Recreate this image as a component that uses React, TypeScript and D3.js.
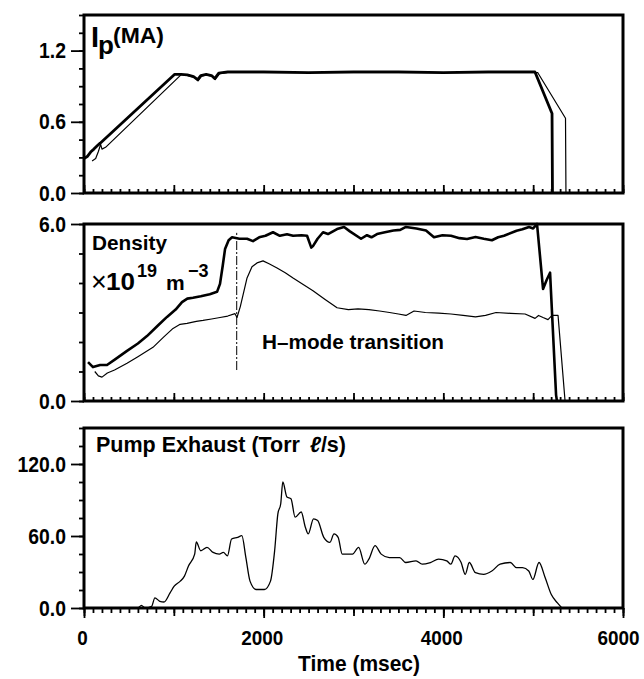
import React, { useEffect, useRef } from "react";
import * as d3 from "d3";

// tick labels
const timeLabels = [0, 2000, 4000, 6000];
const ipLabels = [0, 0.6, 1.2];
const densityLabels = [0, 6];
const pumpLabels = [0, 60, 120];

// plasma current, MA  [time msec, value]
const ipThick: [number, number][] = [
  [0, 0.29], [40, 0.31], [80, 0.35], [110, 0.37], [150, 0.4], [180, 0.42],
  [1010, 1.0], [1080, 1.0], [1150, 0.995], [1220, 0.98], [1265, 0.955], [1300, 0.99],
  [1360, 1.0], [1420, 0.99], [1455, 0.965], [1500, 1.01], [1600, 1.02], [2000, 1.02],
  [2500, 1.015], [3000, 1.02], [3500, 1.02], [4000, 1.015], [4500, 1.02], [5020, 1.02],
  [5210, 0.67], [5215, 0.0],
];
const ipThin: [number, number][] = [
  [90, 0.27], [130, 0.29], [160, 0.35], [185, 0.41], [200, 0.37], [240, 0.385],
  [1085, 1.0], [1150, 0.99], [1230, 0.975], [1270, 0.945], [1310, 0.985], [1360, 0.995],
  [1420, 0.985], [1460, 0.955], [1510, 1.005], [1600, 1.015], [3000, 1.015], [5050, 1.015],
  [5360, 0.63], [5365, 0.0],
];

// line density, 1e19 m^-3
const densityThick: [number, number][] = [
  [45, 1.32], [100, 1.15], [180, 1.22], [256, 1.22], [350, 1.42], [479, 1.7], [600, 1.95],
  [701, 2.2], [820, 2.55], [924, 2.85], [1020, 3.1], [1091, 3.35], [1150, 3.47], [1213, 3.5],
  [1300, 3.55], [1400, 3.62], [1481, 3.7], [1514, 3.97], [1545, 4.6], [1570, 5.15], [1610, 5.45],
  [1648, 5.55], [1730, 5.5], [1815, 5.5], [1881, 5.42], [1950, 5.55], [2020, 5.6], [2104, 5.72],
  [2180, 5.6], [2260, 5.65], [2327, 5.6], [2420, 5.62], [2483, 5.6], [2530, 5.2], [2549, 5.25],
  [2600, 5.5], [2661, 5.72], [2716, 5.66], [2817, 5.83], [2895, 5.9], [2960, 5.75], [3084, 5.5],
  [3150, 5.62], [3200, 5.55], [3262, 5.66], [3350, 5.72], [3445, 5.78], [3520, 5.8], [3584, 5.9],
  [3700, 5.85], [3807, 5.78], [3896, 5.55], [3990, 5.62], [4085, 5.6], [4180, 5.52], [4264, 5.49],
  [4358, 5.56], [4450, 5.5], [4541, 5.45], [4610, 5.55], [4675, 5.6], [4815, 5.77], [4880, 5.82],
  [4954, 5.9], [5000, 5.85], [5043, 6.0], [5110, 3.8], [5150, 4.1], [5188, 4.35], [5255, 0.2],
  [5265, 0.0],
];
const densityThin: [number, number][] = [
  [120, 1.0], [160, 0.85], [200, 0.81], [260, 0.95], [340, 1.05], [479, 1.28], [600, 1.5],
  [768, 1.82], [880, 2.15], [991, 2.46], [1070, 2.6], [1147, 2.63], [1250, 2.7], [1325, 2.73],
  [1420, 2.78], [1514, 2.83], [1600, 2.88], [1681, 2.96], [1703, 2.83], [1740, 3.2], [1815, 4.17],
  [1870, 4.55], [1926, 4.68], [1993, 4.75], [2060, 4.65], [2149, 4.51], [2240, 4.35], [2327, 4.17],
  [2440, 3.95], [2549, 3.74], [2680, 3.45], [2817, 3.16], [2943, 3.1], [3050, 3.12], [3172, 3.1],
  [3290, 3.05], [3401, 3.0], [3500, 2.95], [3584, 2.9], [3674, 3.05], [3800, 3.0], [3950, 2.98],
  [4085, 2.95], [4220, 2.9], [4358, 2.85], [4470, 2.9], [4587, 3.0], [4750, 2.97], [4910, 2.95],
  [5021, 2.8], [5060, 2.9], [5110, 2.83], [5165, 2.76], [5210, 2.9], [5277, 2.9], [5355, 0.0],
];
// H-mode transition marker [time, from, to]
const hModeMarker: [number, number, number] = [1700, 1.05, 5.7];

// pump exhaust, Torr l/s
const pumpExhaust: [number, number][] = [
  [0, 0], [600, 0], [639, 2.2], [680, 0], [753, 1.4], [789, 8.4], [844, 5.6], [890, 5],
  [958, 12.6], [1004, 18.2], [1072, 22.4], [1118, 26.6], [1163, 35], [1232, 44.9], [1250, 55],
  [1300, 47.7], [1369, 50.5], [1437, 46.3], [1506, 44.9], [1551, 46.3], [1597, 43.5], [1643, 57.5],
  [1711, 58.9], [1757, 60.3], [1802, 42], [1848, 22.4], [1917, 15.4], [2008, 15.4], [2076, 22.4],
  [2122, 47.7], [2158, 78.5], [2190, 86.9], [2213, 105], [2259, 92.5], [2304, 91], [2350, 75.7],
  [2418, 80], [2464, 67.3], [2496, 61.7], [2555, 74.3], [2601, 72.9], [2669, 58.9], [2738, 54.7],
  [2783, 61.7], [2829, 58.9], [2875, 44.9], [2989, 44.9], [3057, 50.5], [3126, 36.5], [3171, 40.7],
  [3240, 51.9], [3308, 44.9], [3399, 42], [3514, 42], [3582, 37.9], [3696, 39.3], [3765, 36.5],
  [3856, 37.9], [3947, 40.7], [4038, 39.3], [4084, 36.5], [4130, 43.5], [4198, 37.9], [4244, 28],
  [4289, 37.9], [4358, 29.4], [4449, 28], [4540, 30.8], [4632, 36.5], [4746, 37.9], [4814, 33.6],
  [4882, 33.6], [4951, 30.8], [4997, 23.8], [5065, 37.9], [5134, 25.2], [5202, 11.2], [5270, 4.2],
  [5320, 0],
];

const FONT = "'Liberation Sans', Arial, Helvetica, sans-serif";

function App() {
  const ref = useRef<SVGSVGElement>(null);

  useEffect(() => {
    const svg = d3.select(ref.current);
    svg.selectAll("*").remove();

    const left = 84;
    const right = 623;
    const x = d3.scaleLinear().domain([0, 6000]).range([left, right]);

    const panels = [
      { y: d3.scaleLinear().domain([0, 1.5]).range([193, 15]), step: 0.15, labels: ipLabels, last: false },
      { y: d3.scaleLinear().domain([0, 6]).range([401, 224]), step: 1, labels: densityLabels, last: false },
      { y: d3.scaleLinear().domain([0, 150]).range([608, 428]), step: 15, labels: pumpLabels, last: true },
    ];

    const minorT = d3.range(0, 6001, 100);
    const midT = d3.range(0, 6001, 1000);

    // condensed bold look: squeeze each label horizontally
    const squeeze = (sel: any, k: number) => {
      sel.each(function (this: SVGTextElement) {
        const w = this.getComputedTextLength();
        if (w > 0) {
          this.setAttribute("textLength", String(w * k));
          this.setAttribute("lengthAdjust", "spacingAndGlyphs");
        }
      });
    };

    const styleAxis = (g: any) => {
      g.select(".domain").remove();
      g.selectAll("line").attr("stroke", "#000").attr("stroke-width", 1.8);
      g.selectAll("text")
        .attr("fill", "#000")
        .attr("font-family", FONT)
        .attr("font-weight", "bold")
        .attr("font-size", 22);
    };

    panels.forEach(p => {
      const [y0, y1] = p.y.range();
      const yMinor = d3.range(0, p.y.domain()[1] + 1e-6, p.step);

      // left axis, outward ticks
      svg.append("g")
        .attr("transform", `translate(${left},0)`)
        .call(d3.axisLeft(p.y).tickValues(yMinor).tickSize(5).tickFormat(() => ""))
        .call(styleAxis);
      const yl = svg.append("g")
        .attr("transform", `translate(${left},0)`)
        .call(d3.axisLeft(p.y).tickValues(p.labels).tickSize(13).tickPadding(5).tickFormat(d3.format(".1f")))
        .call(styleAxis);
      squeeze(yl.selectAll("text"), 0.88);

      if (!p.last) {
        // inward time ticks
        svg.append("g")
          .attr("transform", `translate(0,${y0})`)
          .call(d3.axisTop(x).tickValues(minorT).tickSize(4).tickFormat(() => ""))
          .call(styleAxis);
        svg.append("g")
          .attr("transform", `translate(0,${y0})`)
          .call(d3.axisTop(x).tickValues(midT).tickSize(8).tickFormat(() => ""))
          .call(styleAxis);
      } else {
        svg.append("g")
          .attr("transform", `translate(0,${y0})`)
          .call(d3.axisBottom(x).tickValues(minorT).tickSize(5).tickFormat(() => ""))
          .call(styleAxis);
        svg.append("g")
          .attr("transform", `translate(0,${y0})`)
          .call(d3.axisBottom(x).tickValues(midT).tickSize(8).tickFormat(() => ""))
          .call(styleAxis);
        const lab = svg.append("g")
          .attr("transform", `translate(0,${y0})`)
          .call(d3.axisBottom(x).tickValues(timeLabels).tickSize(10).tickFormat(d3.format("d")))
          .call(styleAxis);
        lab.selectAll("text")
          .attr("y", 37)
          .attr("dy", 0)
          .attr("dx", (d: number) => (d === 6000 ? -5 : -2))
          .attr("font-size", 21);
        squeeze(lab.selectAll("text"), 0.9);
      }

      // frame
      svg.append("rect")
        .attr("x", left)
        .attr("y", y1)
        .attr("width", right - left)
        .attr("height", y0 - y1)
        .attr("fill", "none")
        .attr("stroke", "#000")
        .attr("stroke-width", 3);
    });

    const draw = (data: [number, number][], y: any, w: number, curve: any = d3.curveLinear) => {
      const line = d3.line<[number, number]>().x(d => x(d[0])).y(d => y(d[1])).curve(curve);
      svg.append("path")
        .datum(data)
        .attr("d", line)
        .attr("fill", "none")
        .attr("stroke", "#000")
        .attr("stroke-width", w)
        .attr("stroke-linejoin", "round");
    };

    const [pIp, pDen, pPump] = panels;
    draw(ipThin, pIp.y, 1.2);
    draw(ipThick, pIp.y, 2.8);
    draw(densityThin, pDen.y, 1.2);
    draw(densityThick, pDen.y, 2.6);
    draw(pumpExhaust, pPump.y, 1.3, d3.curveMonotoneX);

    // H-mode marker
    svg.append("line")
      .attr("x1", x(hModeMarker[0]))
      .attr("x2", x(hModeMarker[0]))
      .attr("y1", pDen.y(hModeMarker[1]))
      .attr("y2", pDen.y(hModeMarker[2]))
      .attr("stroke", "#000")
      .attr("stroke-width", 1)
      .attr("stroke-dasharray", "9,2,2,2");

    const txt = (sx: number, sy: number, s: string, size: number, len?: number) => {
      const t = svg.append("text")
        .attr("x", sx)
        .attr("y", sy)
        .attr("font-family", FONT)
        .attr("font-weight", "bold")
        .attr("font-size", size)
        .attr("fill", "#000")
        .text(s);
      if (len) t.attr("textLength", len).attr("lengthAdjust", "spacingAndGlyphs");
      return t;
    };

    // panel titles
    const ip = svg.append("text")
      .attr("x", 91)
      .attr("y", 47)
      .attr("font-family", FONT)
      .attr("font-weight", "bold")
      .attr("fill", "#000");
    ip.append("tspan").attr("font-size", 29).text("I");
    ip.append("tspan").attr("font-size", 26).attr("dy", 7).attr("dx", -1).text("p");
    ip.append("tspan").attr("font-size", 22).attr("x", 113).attr("y", 43).attr("textLength", 51)
      .attr("lengthAdjust", "spacingAndGlyphs").text("(MA)");

    txt(92, 250, "Density", 21, 75);
    const sci = svg.append("text")
      .attr("y", 290)
      .attr("font-family", FONT)
      .attr("font-weight", "bold")
      .attr("fill", "#000");
    sci.append("tspan").attr("x", 91).attr("y", 291).attr("font-size", 27).attr("font-weight", "normal").text("\u00d7");
    sci.append("tspan").attr("x", 106).attr("y", 290).attr("font-size", 23).attr("textLength", 29)
      .attr("lengthAdjust", "spacingAndGlyphs").text("10");
    sci.append("tspan").attr("x", 137).attr("y", 277).attr("font-size", 18).text("19");
    sci.append("tspan").attr("x", 166).attr("y", 290).attr("font-size", 21).text("m");
    sci.append("tspan").attr("x", 188).attr("y", 277).attr("font-size", 18).text("\u22123");

    txt(262, 349, "H\u2013mode transition", 21, 182);

    const pe = svg.append("text")
      .attr("x", 96)
      .attr("y", 452)
      .attr("font-family", FONT)
      .attr("font-weight", "bold")
      .attr("font-size", 22)
      .attr("fill", "#000")
      .attr("textLength", 250)
      .attr("lengthAdjust", "spacingAndGlyphs");
    pe.append("tspan").text("Pump Exhaust (Torr");
    pe.append("tspan").attr("dx", 10).attr("font-style", "italic").text("\u2113");
    pe.append("tspan").text("/s)");

    txt(359, 671, "Time (msec)", 22, 122).attr("text-anchor", "middle");
  }, []);

  return (
    <svg
      ref={ref}
      width={644}
      height={679}
      style={{ position: "absolute", left: 0, top: 0, background: "#fff" }}
    />
  );
}

export default App;
